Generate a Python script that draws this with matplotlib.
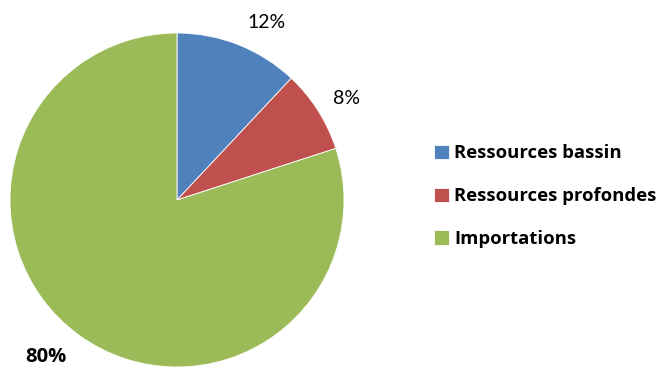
import matplotlib
matplotlib.use("Agg")
import matplotlib.pyplot as plt

categories = ["Ressources bassin", "Ressources profondes", "Importations"]
shares = [12, 8, 80]
colors = ["#4F81BD", "#C0504D", "#9BBB59"]
label_bold = [False, False, True]

W, H = 663, 367
fig = plt.figure(figsize=(W / 100, H / 100), dpi=100)
ax = fig.add_axes([0, 0, 1, 1])

cx, cy, r = 177, 167, 167
wedges, _ = ax.pie(shares, colors=colors, startangle=90, counterclock=False,
                   center=(cx, cy), radius=r, frame=True,
                   wedgeprops=dict(linewidth=0.6, edgecolor="white"))
ax.set_xlim(0, W)
ax.set_ylim(0, H)
ax.set_aspect("equal")
ax.axis("off")

label_pos = [(267, 345), (346, 268), (46, 10)]
for v, (x, y), b in zip(shares, label_pos, label_bold):
    if b:
        ax.text(x, y, f"{v}%", ha="center", va="center", fontsize=14.5,
                family="Open Sans", fontweight="bold", color="black")
    else:
        ax.text(x, y, f"{v}%", ha="center", va="center", fontsize=14,
                family="Lato", color="black")

leg = ax.legend(wedges, categories, loc="center left",
                bbox_to_anchor=(427 / W, 1 - 196 / H), frameon=False,
                prop=dict(family="Open Sans", weight="bold", size=13.3),
                handlelength=0.8, handleheight=0.8, handletextpad=0.27,
                labelspacing=1.35, borderaxespad=0)

fig.savefig("out.png", dpi=100)
